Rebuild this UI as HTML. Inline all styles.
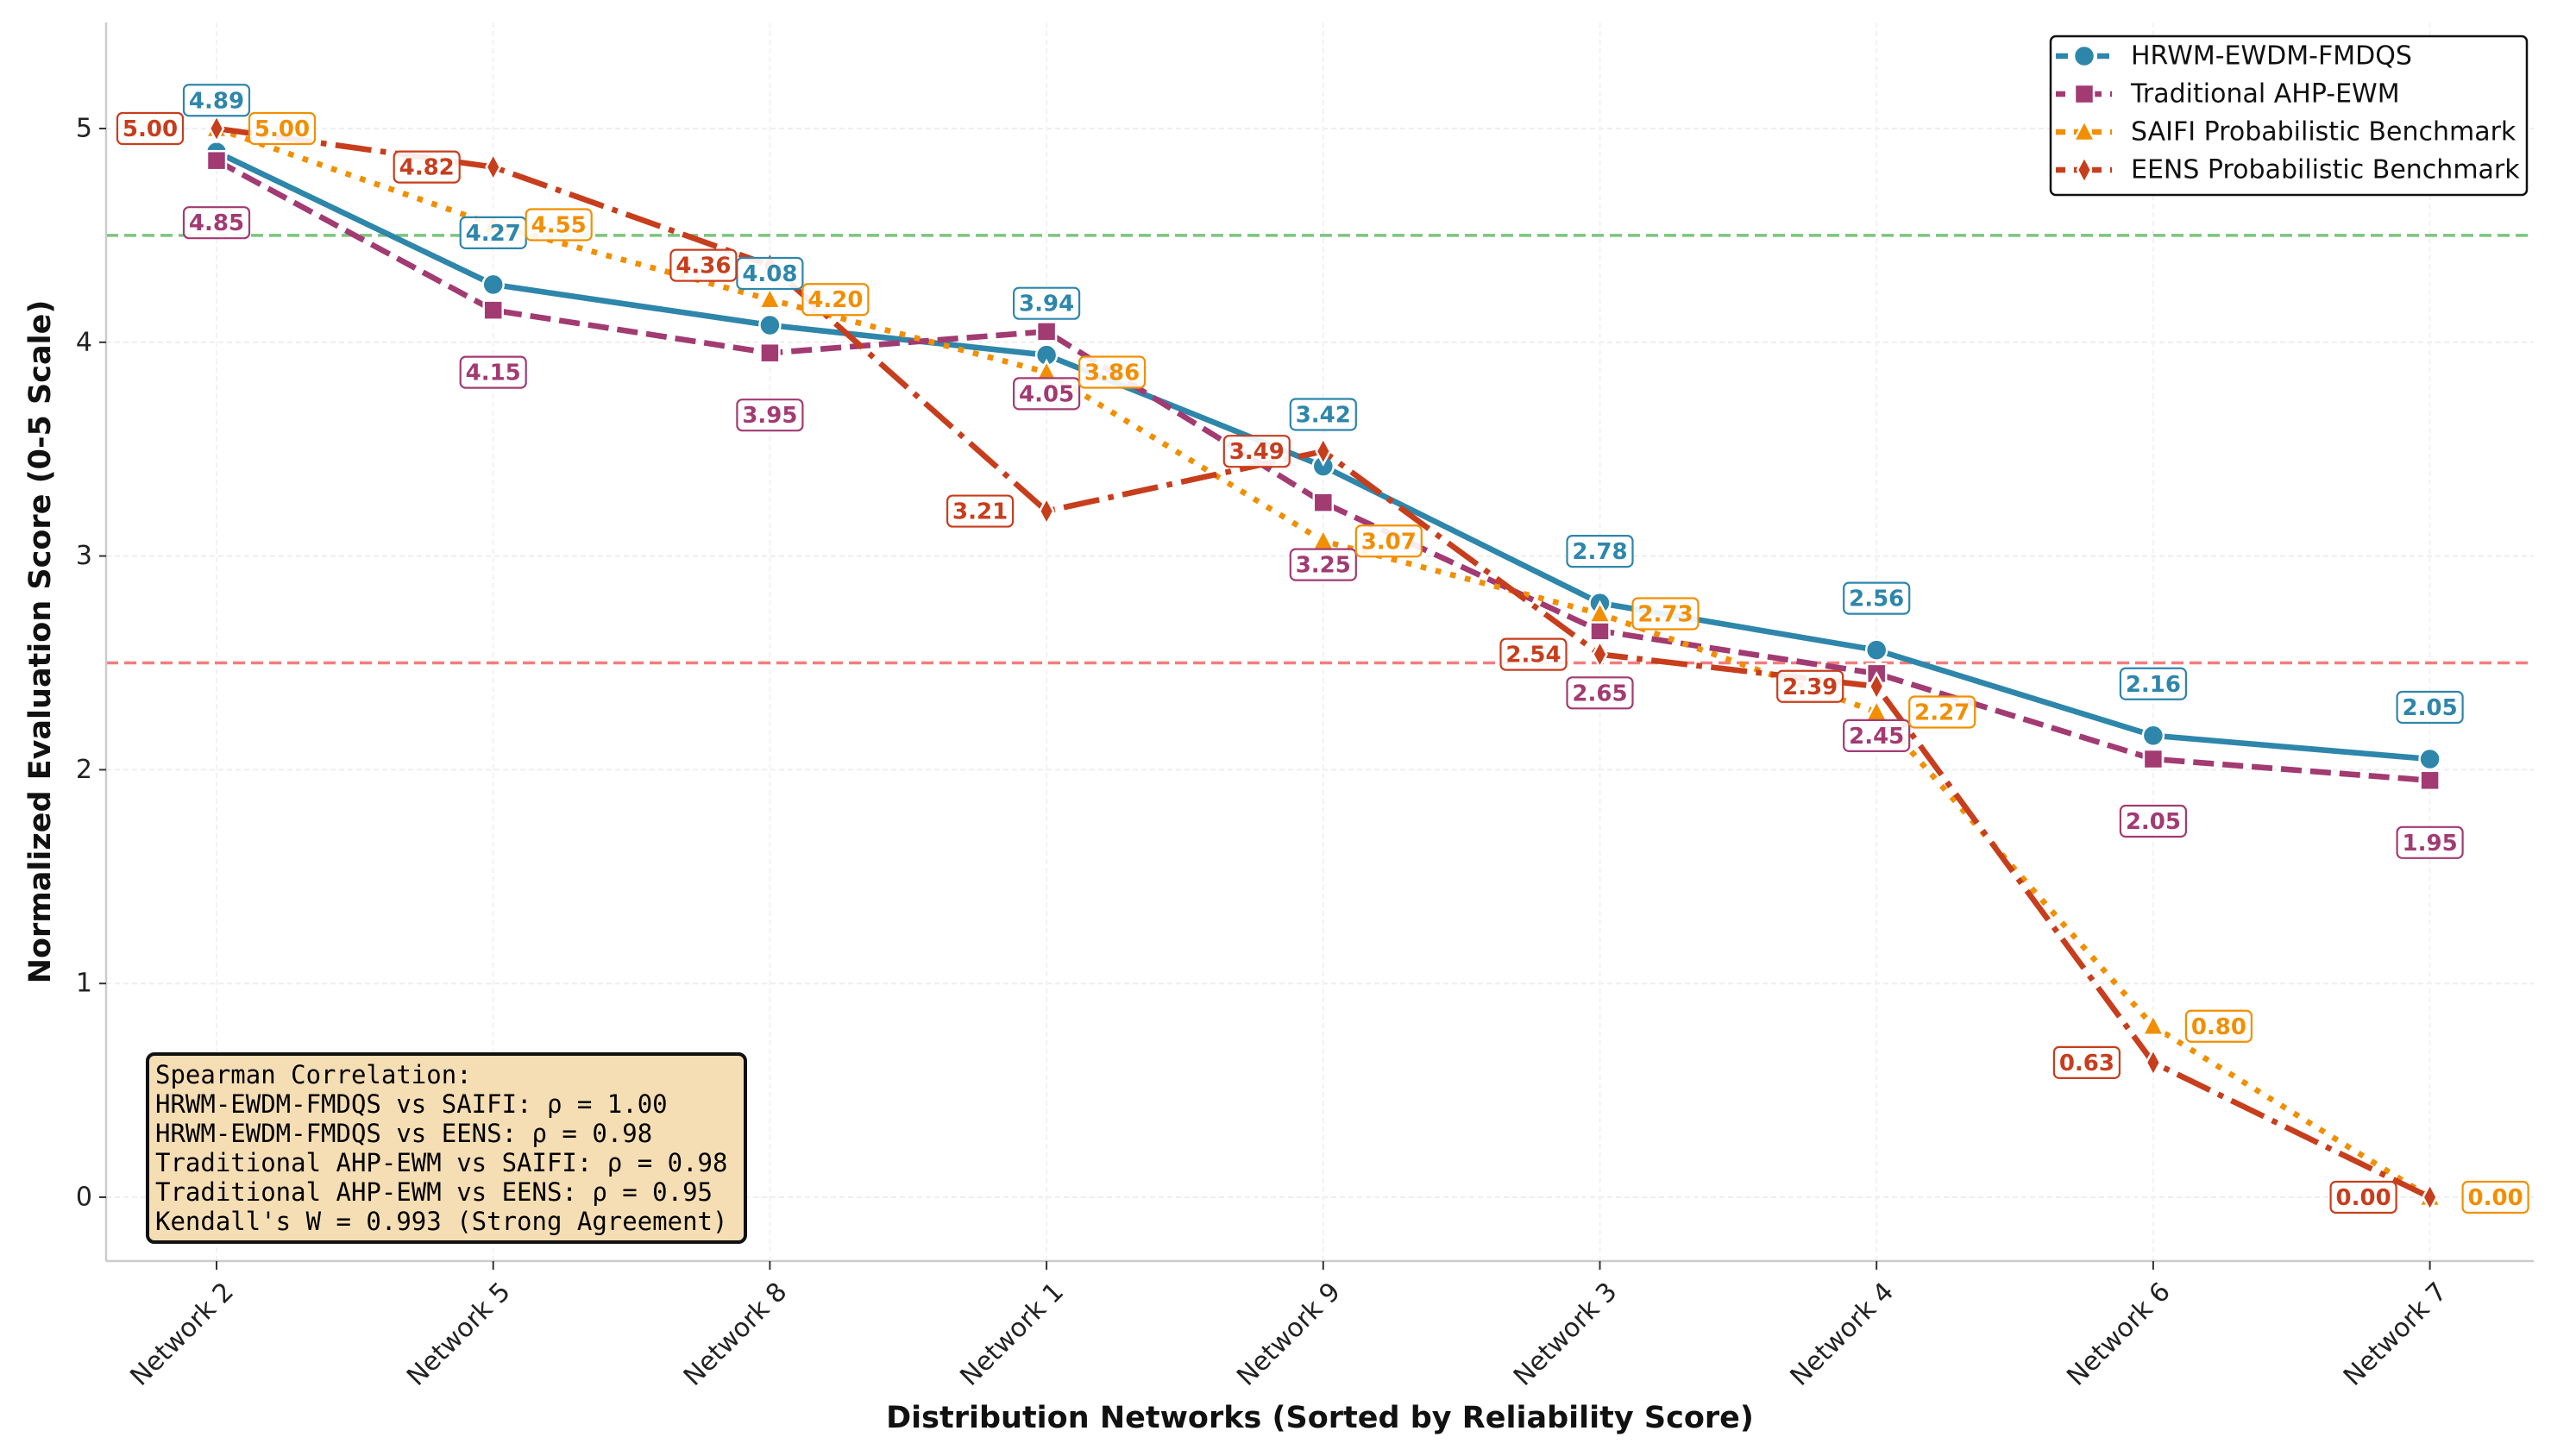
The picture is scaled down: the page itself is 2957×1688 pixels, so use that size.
<!DOCTYPE html>
<html><head><meta charset="utf-8"><style>
html,body{margin:0;padding:0;background:#fff;}
svg{display:block;font-family:"DejaVu Sans","Liberation Sans",sans-serif;}
</style></head><body>
<svg id="chart" width="2957" height="1688" viewBox="0 0 2957 1688" xmlns="http://www.w3.org/2000/svg">
<rect x="0" y="0" width="2957" height="1688" fill="#fff"/>
<g id="grid"></g>
<g id="refs"></g>
<g id="series"></g>
<g id="labels"></g>
<g id="axes"></g>
<text x="47" y="744" transform="rotate(-90 47 744)" text-anchor="middle" dominant-baseline="central" font-size="35" font-weight="bold" fill="#111">Normalized Evaluation Score (0-5 Scale)</text>
<text x="1530" y="1655" text-anchor="middle" font-size="35" font-weight="bold" fill="#111">Distribution Networks (Sorted by Reliability Score)</text>
<g>
<rect x="171" y="1222" width="693" height="218" rx="8" fill="#F5DEB3" stroke="#111" stroke-width="4"/>
<text font-family="'DejaVu Sans Mono','Liberation Mono',monospace" font-size="29" fill="#000">
<tspan x="180" y="1256">Spearman Correlation:</tspan>
<tspan x="180" y="1290">HRWM-EWDM-FMDQS vs SAIFI: ρ = 1.00</tspan>
<tspan x="180" y="1324">HRWM-EWDM-FMDQS vs EENS: ρ = 0.98</tspan>
<tspan x="180" y="1358">Traditional AHP-EWM vs SAIFI: ρ = 0.98</tspan>
<tspan x="180" y="1392">Traditional AHP-EWM vs EENS: ρ = 0.95</tspan>
<tspan x="180" y="1426">Kendall's W = 0.993 (Strong Agreement)</tspan>
</text>
</g>
<g id="legend"></g>
</svg>
<script>
const categories = ["Network 2","Network 5","Network 8","Network 1","Network 9","Network 3","Network 4","Network 6","Network 7"];
const hrwmValues = [4.89,4.27,4.08,3.94,3.42,2.78,2.56,2.16,2.05];
const ahpValues = [4.85,4.15,3.95,4.05,3.25,2.65,2.45,2.05,1.95];
const saifiValues = [5.00,4.55,4.20,3.86,3.07,2.73,2.27,0.80,0.00];
const eensValues = [5.00,4.82,4.36,3.21,3.49,2.54,2.39,0.63,0.00];
const yTicks = [0,1,2,3,4,5];
const refValues = [4.5,2.5];

const NS="http://www.w3.org/2000/svg";
const L=123,R=2937,T=26,B=1462;
const X0=251,DX=320.7;
const Y0=1388,DY=247.8;
function xs(i){return X0+i*DX;}
function ys(v){return Y0-v*DY;}
function mk(tag,attrs,parent){const e=document.createElementNS(NS,tag);for(const k in attrs)e.setAttribute(k,attrs[k]);parent.appendChild(e);return e;}

const grid=document.getElementById('grid');
yTicks.forEach(t=>{const l=mk('line',{x1:L,x2:R,y1:ys(t),y2:ys(t),stroke:'#eee','stroke-width':2,'stroke-dasharray':'6,4'},grid);

});
categories.forEach((c,i)=>{const l=mk('line',{x1:xs(i),x2:xs(i),y1:T,y2:B,stroke:'#f2f2f2','stroke-width':2,'stroke-dasharray':'6,4'},grid);

});

const refs=document.getElementById('refs');
const refColors=['#7cc47e','#f47c7c'];
refValues.forEach((v,k)=>{const l=mk('line',{x1:L,x2:R,y1:ys(v),y2:ys(v),stroke:refColors[k],'stroke-width':3.5,'stroke-dasharray':'14,7'},refs);

});

const seriesDefs=[
 {name:'hrwm',label:'HRWM-EWDM-FMDQS',vals:hrwmValues,color:'#2E86AB',dash:'',marker:'circle',lab:[0,-60]},
 {name:'ahp',label:'Traditional AHP-EWM',vals:ahpValues,color:'#A23B72',dash:'24,10',marker:'square',lab:[0,72]},
 {name:'saifi',label:'SAIFI Probabilistic Benchmark',vals:saifiValues,color:'#F18F01',dash:'6.6,11',marker:'triangle',lab:[76,0]},
 {name:'eens',label:'EENS Probabilistic Benchmark',vals:eensValues,color:'#C73E1D',dash:'42,10.5,6.6,10.5',marker:'diamond',lab:[-77,0]}
];
function marker(type,x,y,color,parent,s){
 s=s||1;
 if(type==='circle')return mk('circle',{cx:x,cy:y,r:12*s,fill:color,stroke:'#fff','stroke-width':2.5},parent);
 if(type==='square')return mk('rect',{x:x-11*s,y:y-11*s,width:22*s,height:22*s,fill:color,stroke:'#fff','stroke-width':2.5},parent);
 if(type==='triangle')return mk('polygon',{points:`${x},${y-13*s} ${x+12*s},${y+10*s} ${x-12*s},${y+10*s}`,fill:color,stroke:'#fff','stroke-width':2.5},parent);
 return mk('polygon',{points:`${x},${y-15*s} ${x+8*s},${y} ${x},${y+15*s} ${x-8*s},${y}`,fill:color,stroke:'#fff','stroke-width':2.5},parent);
}
const series=document.getElementById('series');
seriesDefs.forEach(s=>{
 const g=mk('g',{},series);
 
 
 const p=mk('polyline',{points:s.vals.map((v,i)=>xs(i)+','+ys(v)).join(' '),fill:'none',stroke:s.color,'stroke-width':6.6,'stroke-dasharray':s.dash,'stroke-linejoin':'round'},g);
 
 
 s.vals.forEach((v,i)=>{const m=marker(s.marker,xs(i),ys(v),s.color,g);
  
  });
});
const labels=document.getElementById('labels');
seriesDefs.forEach(s=>{
 s.vals.forEach((v,i)=>{
  const cx=xs(i)+s.lab[0],cy=ys(v)+s.lab[1];
  const g=mk('g',{},labels);
  
  
  mk('rect',{x:cx-38,y:cy-18,width:76,height:36,rx:6,fill:'#fff','fill-opacity':0.9,stroke:s.color,'stroke-width':2.2},g);
  const t=mk('text',{x:cx,y:cy+1,'text-anchor':'middle','dominant-baseline':'central','font-size':26,'font-weight':'bold',fill:s.color},g);
  t.textContent=v.toFixed(2);
 });
});
const axes=document.getElementById('axes');
mk('line',{x1:L,x2:L,y1:T,y2:B,stroke:'#ccc','stroke-width':2.5},axes);
mk('line',{x1:L,x2:R,y1:B,y2:B,stroke:'#ccc','stroke-width':2.5},axes);
yTicks.forEach(t=>{
 mk('line',{x1:L-8,x2:L,y1:ys(t),y2:ys(t),stroke:'#333','stroke-width':2},axes);
 const tx=mk('text',{x:L-16,y:ys(t),'text-anchor':'end','dominant-baseline':'central','font-size':30,fill:'#222'},axes);
 
 
 tx.textContent=t;
});
categories.forEach((c,i)=>{
 mk('line',{x1:xs(i),x2:xs(i),y1:B,y2:B+10,stroke:'#333','stroke-width':2},axes);
 const x=xs(i)+6,y=B+22;
 const tx=mk('text',{x:x,y:y,'text-anchor':'end','dominant-baseline':'hanging','font-size':30,fill:'#222',transform:`rotate(-45 ${x} ${y})`},axes);
 
 
 tx.textContent=c;
});
const legend=document.getElementById('legend');
mk('rect',{x:2377,y:42,width:552,height:184,rx:6,fill:'#fff',stroke:'#111','stroke-width':2.5},legend);
seriesDefs.forEach((s,k)=>{
 const y=65+k*44;
 const g=mk('g',{},legend);
 
 
 mk('line',{x1:2383,x2:2448,y1:y,y2:y,stroke:s.color,'stroke-width':6.6,'stroke-dasharray':s.marker==='circle'?'14,10':s.dash?'11,10':''},g);
 marker(s.marker,2416,y,s.color,g,1);
 const t=mk('text',{x:2470,y:y,'dominant-baseline':'central','font-size':30,fill:'#111'},g);
 t.textContent=s.label;
});
</script>
</body></html>
